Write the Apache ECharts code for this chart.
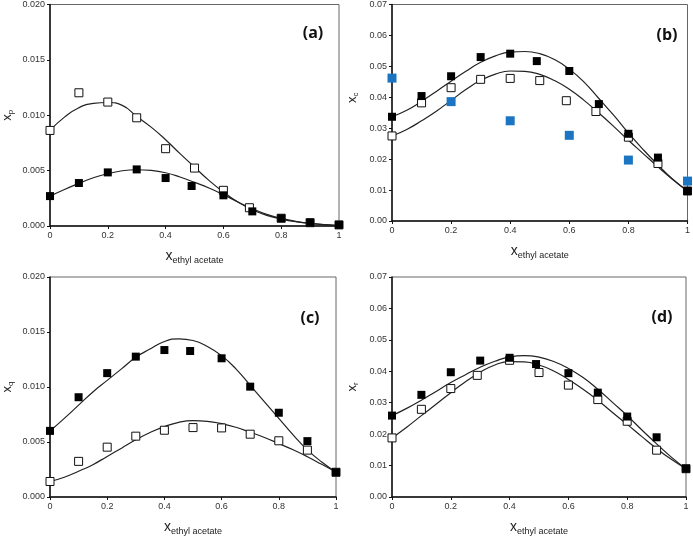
<!DOCTYPE html>
<html>
<head>
<meta charset="utf-8">
<script src="https://cdn.jsdelivr.net/npm/echarts@6/dist/echarts.min.js"></script>
<style>
  html, body { margin: 0; padding: 0; background: #fff; }
  #chart { width: 693px; height: 537px; }
</style>
</head>
<body>
<div id="chart"></div>
<script>
// x positions of the model curves
const xCurve = [0, 0.05, 0.1, 0.15, 0.2, 0.25, 0.3, 0.35, 0.4, 0.45, 0.5, 0.55, 0.6, 0.65, 0.7, 0.75, 0.8, 0.85, 0.9, 0.95, 1]

// (a) x_p
const aOpenX = [0, 0.1, 0.2, 0.3, 0.4, 0.5, 0.6, 0.69, 0.8, 0.9, 1]
const aOpenY = [0.00863, 0.01203, 0.01119, 0.00977, 0.00698, 0.00523, 0.00322, 0.00165, 0.0007, 0.0003, 0.0001]
const aFillX = [0, 0.1, 0.2, 0.3, 0.4, 0.49, 0.6, 0.7, 0.8, 0.9, 1]
const aFillY = [0.0027, 0.00388, 0.00484, 0.00511, 0.00433, 0.00361, 0.00277, 0.00132, 0.0007, 0.0003, 0.0001]
const aOpenCurve = [0.00863, 0.00983, 0.01068, 0.01107, 0.01115, 0.01089, 0.0099, 0.00893, 0.00779, 0.00653, 0.00532, 0.00412, 0.00307, 0.00217, 0.00147, 0.00096, 0.00063, 0.00039, 0.00024, 0.00012, 0.00003]
const aFillCurve = [0.0027, 0.0033, 0.00385, 0.00436, 0.00472, 0.00499, 0.00508, 0.00502, 0.00481, 0.00442, 0.00394, 0.00343, 0.00283, 0.00217, 0.00156, 0.00105, 0.00069, 0.00042, 0.00024, 0.00012, 0.00003]

// (b) x_c
const bOpenX = [0, 0.1, 0.2, 0.3, 0.4, 0.5, 0.59, 0.69, 0.8, 0.9, 1]
const bOpenY = [0.0275, 0.0382, 0.0431, 0.0458, 0.0461, 0.0454, 0.0389, 0.0354, 0.0271, 0.0186, 0.0097]
const bFillX = [0, 0.1, 0.2, 0.3, 0.4, 0.49, 0.6, 0.7, 0.8, 0.9, 1]
const bFillY = [0.0337, 0.0404, 0.0468, 0.053, 0.0541, 0.0517, 0.0485, 0.0378, 0.0282, 0.0205, 0.0097]
const bBlueX = [0, 0.2, 0.4, 0.6, 0.8, 1]
const bBlueY = [0.0462, 0.0386, 0.0324, 0.0277, 0.0197, 0.0129]
const bOpenCurve = [0.0275, 0.0296, 0.0324, 0.0355, 0.039, 0.0425, 0.0455, 0.0475, 0.0485, 0.0484, 0.0474, 0.0454, 0.0426, 0.039, 0.0349, 0.0306, 0.0261, 0.0218, 0.0175, 0.0134, 0.0097]
const bFillCurve = [0.0337, 0.0358, 0.0387, 0.0419, 0.0452, 0.0484, 0.0513, 0.0534, 0.0546, 0.0548, 0.0541, 0.0522, 0.0491, 0.0449, 0.0396, 0.0342, 0.0285, 0.0231, 0.0181, 0.0135, 0.0097]

// (c) x_q
const cOpenX = [0, 0.1, 0.2, 0.3, 0.4, 0.5, 0.6, 0.7, 0.8, 0.9, 1]
const cOpenY = [0.00141, 0.00324, 0.00453, 0.00553, 0.00607, 0.00631, 0.00628, 0.00571, 0.00511, 0.00426, 0.00225]
const cFillX = [0, 0.1, 0.2, 0.3, 0.4, 0.49, 0.6, 0.7, 0.8, 0.9, 1]
const cFillY = [0.00601, 0.00907, 0.01126, 0.01276, 0.01336, 0.01327, 0.01261, 0.01003, 0.00766, 0.00508, 0.00225]
const cOpenCurve = [0.00141, 0.0018, 0.00234, 0.00294, 0.00369, 0.00444, 0.0052, 0.00586, 0.0064, 0.00679, 0.00694, 0.00688, 0.00667, 0.00634, 0.00589, 0.00541, 0.00486, 0.00429, 0.00366, 0.00297, 0.00228]
const cFillCurve = [0.006, 0.00715, 0.00835, 0.00955, 0.0106, 0.01165, 0.0127, 0.01345, 0.01414, 0.01438, 0.01423, 0.01369, 0.01285, 0.01165, 0.01015, 0.00865, 0.00715, 0.00565, 0.00429, 0.00318, 0.00228]

// (d) x_r
const dOpenX = [0, 0.1, 0.2, 0.29, 0.4, 0.5, 0.6, 0.7, 0.8, 0.9, 1]
const dOpenY = [0.0188, 0.0279, 0.0345, 0.0387, 0.0435, 0.0396, 0.0356, 0.031, 0.0241, 0.0149, 0.009]
const dFillX = [0, 0.1, 0.2, 0.3, 0.4, 0.49, 0.6, 0.7, 0.8, 0.9, 1]
const dFillY = [0.0259, 0.0325, 0.0397, 0.0434, 0.0443, 0.0423, 0.0394, 0.0332, 0.0256, 0.019, 0.009]
const dOpenCurve = [0.0188, 0.0222, 0.0259, 0.0295, 0.0332, 0.0367, 0.0397, 0.042, 0.0431, 0.043, 0.042, 0.0401, 0.0374, 0.0343, 0.0308, 0.0269, 0.0231, 0.0192, 0.0154, 0.012, 0.009]
const dFillCurve = [0.0259, 0.0282, 0.0308, 0.0336, 0.0364, 0.0389, 0.0413, 0.0432, 0.0446, 0.045, 0.0445, 0.0431, 0.0409, 0.038, 0.0343, 0.0301, 0.0259, 0.0213, 0.0169, 0.0127, 0.009]

const panelLabels = ['(a)', '(b)', '(c)', '(d)']
const yNames = ['p', 'c', 'q', 'r']

const zip = (xs, ys) => xs.map((x, i) => [x, ys[i]])

const chart = echarts.init(document.getElementById('chart'))

const font = 'Liberation Sans, Arial, sans-serif'

const grids = [
  { left: 42, top: 4, width: 297, height: 222 },
  { left: 392, top: 4, width: 296, height: 217 },
  { left: 40, top: 277, width: 296, height: 222 },
  { left: 392, top: 277, width: 294, height: 222 }
]

const xAxes = grids.map((g, i) => ({
  type: 'value',
  gridIndex: i,
  min: 0,
  max: 1,
  interval: 0.2,
  name: '{x|x}{s|ethyl acetate}',
  nameLocation: 'middle',
  nameGap: 22,
  nameTextStyle: {
    rich: {
      x: { fontSize: 14, fontFamily: font, color: '#222' },
      s: { fontSize: 9, fontFamily: font, color: '#222', padding: [8, 0, 0, 0] }
    }
  },
  axisLine: { lineStyle: { color: '#111', width: 1.5 } },
  axisTick: { show: true, inside: false, length: 3, lineStyle: { color: '#111' } },
  axisLabel: { fontSize: 9, fontFamily: font, color: '#333', margin: 5, formatter: v => String(v) },
  splitLine: { show: false }
}))

const yMax = [0.02, 0.07, 0.02, 0.07]
const yStep = [0.005, 0.01, 0.005, 0.01]
const yDec = [3, 2, 3, 2]

const yAxes = grids.map((g, i) => ({
  type: 'value',
  gridIndex: i,
  min: 0,
  max: yMax[i],
  interval: yStep[i],
  name: '{x|x}{s|' + yNames[i] + '}',
  nameLocation: 'middle',
  nameGap: i % 2 === 0 ? 35 : 32,
  nameRotate: 90,
  nameTextStyle: {
    padding: i === 1 ? [0, 0, 0, 30] : 0,
    rich: {
      x: { fontSize: 13, fontFamily: font, color: '#222' },
      s: { fontSize: 8, fontFamily: font, color: '#222', padding: [7, 0, 0, 0] }
    }
  },
  axisLine: { show: true, lineStyle: { color: '#111', width: 1.5 } },
  axisTick: { show: true, inside: false, length: 3, lineStyle: { color: '#111' } },
  axisLabel: { fontSize: 9, fontFamily: font, color: '#333', margin: 5, formatter: v => v.toFixed(yDec[i]) },
  splitLine: { show: false }
}))

const curveSeries = (idx, ys) => ({
  type: 'line',
  xAxisIndex: idx,
  yAxisIndex: idx,
  data: zip(xCurve, ys),
  smooth: true,
  showSymbol: false,
  symbol: 'none',
  lineStyle: { color: '#222', width: 1.2 },
  z: 2
})

const openSeries = (idx, xs, ys) => ({
  type: 'scatter',
  xAxisIndex: idx,
  yAxisIndex: idx,
  data: zip(xs, ys),
  symbol: 'rect',
  symbolSize: 8,
  itemStyle: { color: '#fff', borderColor: '#111', borderWidth: 1, opacity: 1 },
  z: 3
})

const fillSeries = (idx, xs, ys, color) => ({
  type: 'scatter',
  xAxisIndex: idx,
  yAxisIndex: idx,
  data: zip(xs, ys),
  symbol: 'rect',
  symbolSize: color ? 9 : 8,
  itemStyle: { color: color || '#000', opacity: 1 },
  z: 4
})

const labelPos = [[308, 20], [662, 22], [305, 305], [657, 304]]

const option = {
  animation: false,
  backgroundColor: '#fff',
  title: panelLabels.map((t, i) => ({
    text: t,
    left: labelPos[i][0],
    top: labelPos[i][1],
    textAlign: 'center',
    textStyle: { fontSize: 16, fontWeight: 'bold', fontFamily: 'Open Sans, ' + font, color: '#111' }
  })),
  grid: grids.map(g => Object.assign({ show: true, borderColor: '#666', borderWidth: 1, backgroundColor: 'transparent' }, g)),
  xAxis: xAxes,
  yAxis: yAxes,
  series: [
    curveSeries(0, aOpenCurve),
    curveSeries(0, aFillCurve),
    openSeries(0, aOpenX, aOpenY),
    fillSeries(0, aFillX, aFillY),

    curveSeries(1, bOpenCurve),
    curveSeries(1, bFillCurve),
    openSeries(1, bOpenX, bOpenY),
    fillSeries(1, bFillX, bFillY),
    fillSeries(1, bBlueX, bBlueY, '#1C75C2'),

    curveSeries(2, cOpenCurve),
    curveSeries(2, cFillCurve),
    openSeries(2, cOpenX, cOpenY),
    fillSeries(2, cFillX, cFillY),

    curveSeries(3, dOpenCurve),
    curveSeries(3, dFillCurve),
    openSeries(3, dOpenX, dOpenY),
    fillSeries(3, dFillX, dFillY)
  ]
}

chart.setOption(option)
</script>
</body>
</html>
